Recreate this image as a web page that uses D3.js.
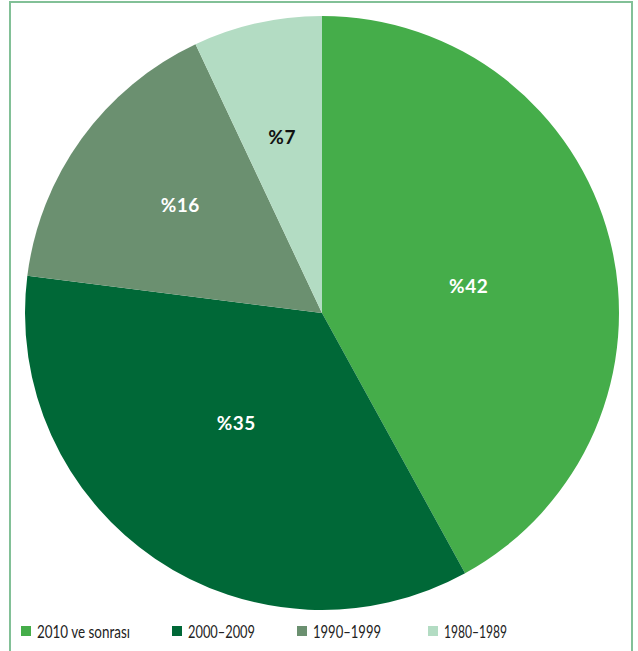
<!DOCTYPE html>
<html><head><meta charset="utf-8">
<script src="https://cdn.jsdelivr.net/npm/d3@7"></script>
<style>body{margin:0;background:#fff}svg{display:block}</style>
</head><body>
<script>
const categories = ["2010 ve sonrası", "2000–2009", "1990–1999", "1980–1989"];
const values = [42, 35, 16, 7];
const labels = ["%42", "%35", "%16", "%7"];
const colors = ["#45ad4a", "#006837", "#6b9070", "#b3dcc3"];
const labelColors = ["#fff", "#fff", "#fff", "#111"];
const labelRadiusFrac = [0.502, 0.471, 0.6, 0.606];
const labelAngleOffsetDeg = [4, 3.6, 1.3, -0.2];
const legendTextWidths = [93, 67, 68, 63];

const W = 638, H = 651;
const svg = d3.select("body").append("svg").attr("width", W).attr("height", H);

svg.append("rect").attr("x", 10).attr("y", 2).attr("width", 622).attr("height", 700)
  .attr("fill", "none").attr("stroke", "#82c097").attr("stroke-width", 2);

const cx = 322, cy = 313, R = 297;
const pie = d3.pie().sort(null).value(d => d)(values);
const arc = d3.arc().innerRadius(0).outerRadius(R);
const g = svg.append("g").attr("transform", `translate(${cx},${cy})`);
g.selectAll("path").data(pie).join("path").attr("d", arc).attr("fill", (d, i) => colors[i]);

g.selectAll("text").data(pie).join("text")
  .attr("transform", (d, i) => {
    const r = R * labelRadiusFrac[i];
    const a = (d.startAngle + d.endAngle) / 2 + labelAngleOffsetDeg[i] * Math.PI / 180;
    return `translate(${r * Math.sin(a)},${-r * Math.cos(a)})`;
  })
  .attr("text-anchor", "middle").attr("dy", "0.36em")
  .attr("font-family", "Lato, 'Open Sans', sans-serif").attr("font-weight", "bold")
  .attr("font-size", 19).attr("letter-spacing", 0.5).attr("fill", (d, i) => labelColors[i])
  .text((d, i) => labels[i]);

const legendX = [21, 172, 297, 428];
const lg = svg.append("g");
categories.forEach((c, i) => {
  lg.append("rect").attr("x", legendX[i]).attr("y", 626).attr("width", 10).attr("height", 10).attr("fill", colors[i]);
  lg.append("text").attr("x", legendX[i] + 16).attr("y", 637.5)
    .attr("font-family", "Lato, 'Open Sans', sans-serif").attr("font-size", 16.5).attr("fill", "#222")
    .attr("textLength", legendTextWidths[i]).attr("lengthAdjust", "spacingAndGlyphs")
    .text(c);
});
</script>
</body></html>
